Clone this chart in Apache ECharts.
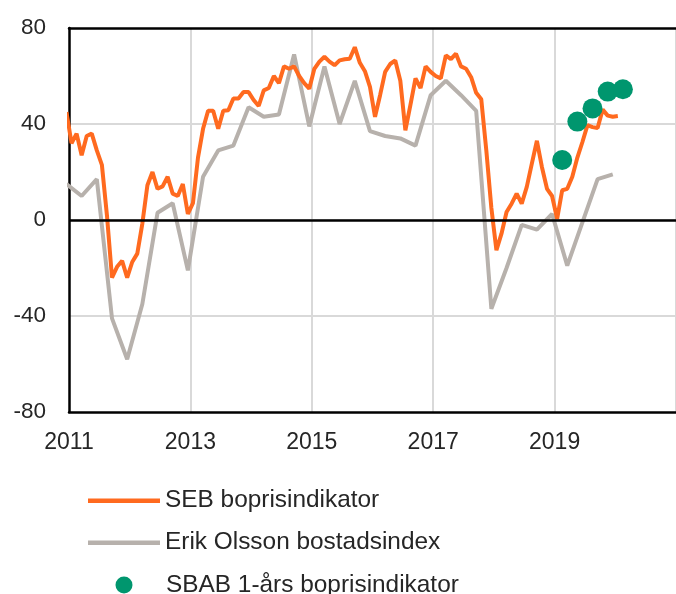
<!DOCTYPE html>
<html>
<head>
<meta charset="utf-8">
<script src="https://cdn.jsdelivr.net/npm/echarts@6/dist/echarts.min.js"></script>
<style>
html,body{margin:0;padding:0;background:#fff;}
#chart{width:676px;height:594px;}
</style>
</head>
<body>
<div id="chart"></div>
<script>
// ---- data ----
// SEB boprisindikator, monthly, starting Dec 2010
const sebStart = [2010, 12];
const sebValues = [
  45,
  32, 36, 27, 35, 36, 29, 23, 2, -24, -19.5, -17, -24,
  -17.5, -14, -1.5, 14.5, 20, 13, 14, 18, 11, 10, 15, 2.5,
  7, 26, 38, 45.5, 45.5, 38, 45.5, 45.7, 50.6, 50.6, 53.3, 53.3,
  50, 47.5, 54, 55, 60, 57, 64, 63, 64, 60, 57, 54.7,
  63, 66, 68, 66, 64.5, 66.5, 67, 67.2, 72, 65.5, 62, 55.5,
  43, 52, 61.7, 65, 66.5, 58, 37.4, 48, 59, 55, 64, 61.7,
  60, 59, 68.6, 67, 69.3, 64, 63, 59.5, 53, 50.3, 29, 5,
  -12.6, -5.7, 3.3, 6.8, 11, 6.8, 13.8, 23.5, 33, 22, 13, 10,
  0.5, 12.4, 13, 18, 26, 32.5, 39.5, 38.7, 38.3, 46, 43.5, 43,
  43.3
];
// Erik Olsson bostadsindex, quarterly (Mar/Jun/Sep/Dec), starting Dec 2010
const eoStart = [2010, 12];
const eoValues = [
  15,
  10, 17, -41, -58,
  -35, 3, 7, -21,
  18, 29, 31, 47,
  43, 44, 69, 39,
  64, 40, 58, 37,
  35, 34, 31, 52,
  58, 52, 45.5, -37,
  -20, -2, -4, 2.5,
  -19, -1, 17, 19
];
// SBAB 1-års boprisindikator
const sbabDates = ['2019-02', '2019-05', '2019-08', '2019-11', '2020-02'];
const sbabValues = [25, 41, 46.5, 53.5, 54.5];

const seriesNames = ['SEB boprisindikator', 'Erik Olsson bostadsindex', 'SBAB 1-års boprisindikator'];
const yTicks = [-80, -40, 0, 40, 80];
const xTicks = [2011, 2013, 2015, 2017, 2019];

// ---- helpers ----
function pos(y, m) { return y + (m - 0.5) / 12; }
function series(start, step, vals) {
  return vals.map(function (v, i) {
    const mi = (start[0] * 12 + (start[1] - 1)) + i * step;
    const yy = Math.floor(mi / 12), mm = mi % 12 + 1;
    return [pos(yy, mm), v];
  });
}
const sebData = series(sebStart, 1, sebValues);
const eoData = series(eoStart, 3, eoValues);
const sbabData = sbabDates.map(function (d, i) {
  const p = d.split('-');
  return [pos(+p[0], +p[1]), sbabValues[i]];
});

const FONT = "'Liberation Sans', Arial, sans-serif";
const TXT = '#262626';
const ORANGE = '#ff6a1f';
const GREY = '#b7b1ac';
const TEAL = '#00966e';

const legendText = { color: TXT, fontFamily: FONT, fontSize: 24.4, lineHeight: 30 };

const chart = echarts.init(document.getElementById('chart'), null, { renderer: 'canvas' });
chart.setOption({
  animation: false,
  backgroundColor: '#fff',
  grid: { left: 69, top: 28, width: 612, height: 384, containLabel: false },
  xAxis: [{
    type: 'value', min: xTicks[0], max: 2021, interval: 2,
    axisLine: { show: true, onZero: false, lineStyle: { color: '#000', width: 2.5 } },
    axisTick: { show: false },
    splitLine: { show: true, showMinLine: false, lineStyle: { color: '#d9d9d9', width: 2 } },
    axisLabel: { showMaxLabel: false, color: TXT, fontFamily: FONT, fontSize: 23, lineHeight: 23, margin: 19,
      formatter: function (v) { return xTicks.indexOf(v) >= 0 ? String(v) : ''; } }
  }, {
    type: 'value', position: 'top', min: 2011, max: 2021,
    axisLine: { show: true, onZero: false, lineStyle: { color: '#000', width: 2.5 } },
    axisTick: { show: false }, axisLabel: { show: false }, splitLine: { show: false }
  }],
  yAxis: {
    type: 'value', min: yTicks[0], max: yTicks[yTicks.length - 1], interval: 40,
    axisLine: { show: true, onZero: false, lineStyle: { color: '#000', width: 2.5 } },
    axisTick: { show: false },
    splitLine: { show: true, showMinLine: false, showMaxLine: false, lineStyle: { color: '#d9d9d9', width: 2 } },
    axisLabel: { color: TXT, fontFamily: FONT, fontSize: 22.5, margin: 23 }
  },
  legend: [
    { data: [seriesNames[0]], left: 88, top: 485.7, padding: 0, icon: 'rect', itemWidth: 72, itemHeight: 4.5,
      textStyle: legendText, selectedMode: false },
    { data: [seriesNames[1]], left: 88, top: 527.7, padding: 0, icon: 'rect', itemWidth: 72, itemHeight: 4.5,
      textStyle: legendText, selectedMode: false },
    { data: [seriesNames[2]], left: 115.5, top: 570, padding: 0, icon: 'circle', itemWidth: 17, itemHeight: 17,
      textStyle: Object.assign({}, legendText, { padding: [0, 0, 0, 28.5] }), selectedMode: false }
  ],
  series: [
    {
      name: seriesNames[1], type: 'line', data: eoData, showSymbol: false, symbol: 'none', z: 2,
      lineStyle: { color: GREY, width: 4 }, itemStyle: { color: GREY }, clip: true,
      markLine: { silent: true, symbol: 'none', label: { show: false },
        lineStyle: { color: '#000', width: 2.5, type: 'solid' }, data: [{ yAxis: 0 }] }
    },
    {
      name: seriesNames[0], type: 'line', data: sebData, showSymbol: false, symbol: 'none', z: 3,
      lineStyle: { color: ORANGE, width: 4 }, itemStyle: { color: ORANGE }, clip: true
    },
    {
      name: seriesNames[2], type: 'scatter', data: sbabData, symbol: 'circle', symbolSize: 20, z: 4,
      itemStyle: { color: TEAL, opacity: 1 }
    }
  ]
});
</script>
</body>
</html>
